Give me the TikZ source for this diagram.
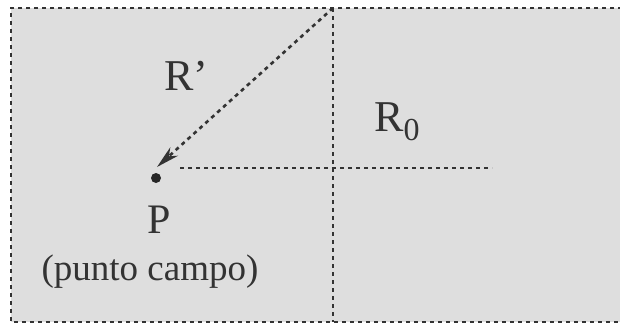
\documentclass[tikz,border=0pt]{standalone}
\usepackage{fontspec}
\setmainfont{Liberation Serif}
\usetikzlibrary{calc}
\begin{document}
\begin{tikzpicture}[x=1pt,y=-1pt,
  dl/.style={line width=2.6pt, dash pattern=on 4pt off 4pt, black!80},
  lbl/.style={inner sep=0pt, text=black!80}]
\useasboundingbox (0,0) rectangle (620,329);
\fill[black!13] (11,8) rectangle (620,322);
\draw[dl] (622,8) -- (11,8) -- (11,322) -- (622,322);
\coordinate (top) at (333,8);
\coordinate (bot) at (333,322);
\coordinate (tip) at (157,167);
\coordinate (hs) at (180,168);
\coordinate (he) at (492,168);
\draw[dl] (top) -- (bot);
\draw[dl] (hs) -- (he);
\draw[dl, shorten >=14pt] (top) -- (tip);
\fill[black!80] (tip) -- ($(tip)!24pt!14:(top)$) -- ($(tip)!16pt!(top)$) -- ($(tip)!24pt!-14:(top)$) -- cycle;
\node[circle, fill=black!85, inner sep=0pt, minimum size=10pt] (dot) at (156,178) {};
\node[lbl, font=\fontsize{44}{44}\selectfont] (rp) at (186,76) {R’};
\node[lbl, font=\fontsize{44}{44}\selectfont] (r0) at (397,122) {R\raisebox{-9pt}{\fontsize{32}{32}\selectfont 0}};
\node[lbl, font=\fontsize{42}{42}\selectfont] (p) at (159,220) {P};
\node[lbl, font=\fontsize{37}{37}\selectfont] (pc) at (150,272) {(punto campo)};
\end{tikzpicture}
\end{document}
